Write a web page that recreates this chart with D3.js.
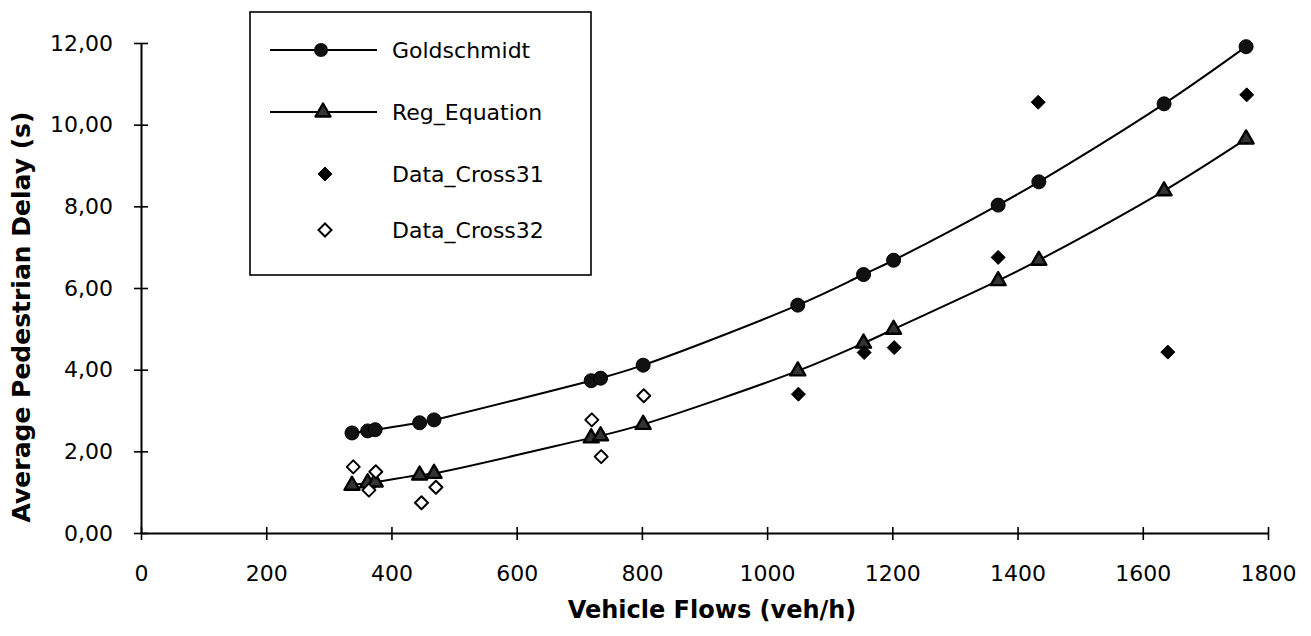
<!DOCTYPE html>
<html>
<head>
<meta charset="utf-8">
<script src="https://cdn.jsdelivr.net/npm/d3@7"></script>
<style>
  html, body { margin: 0; padding: 0; background: #fff; }
  svg { display: block; }
</style>
</head>
<body>
<svg id="chart" width="1311" height="636"></svg>
<script>
// ---- Data ----
const flows        = [337, 362, 374, 445, 468, 719, 734, 802, 1049, 1154, 1202, 1369, 1434, 1634, 1765];
const goldschmidt  = [2.45, 2.50, 2.53, 2.70, 2.77, 3.73, 3.79, 4.11, 5.58, 6.33, 6.68, 8.03, 8.60, 10.51, 11.91];
const regEquation  = [1.17, 1.23, 1.25, 1.42, 1.46, 2.33, 2.38, 2.66, 3.97, 4.65, 4.99, 6.18, 6.68, 8.38, 9.65];
const cross31Flows = [1050, 1155, 1203, 1369, 1433, 1640, 1766];
const cross31Delay = [3.40, 4.42, 4.54, 6.75, 10.55, 4.43, 10.73];
const cross32Flows = [339, 364, 375, 448, 471, 720, 735, 803];
const cross32Delay = [1.62, 1.05, 1.50, 0.74, 1.12, 2.77, 1.87, 3.36];
const xTicks = [0, 200, 400, 600, 800, 1000, 1200, 1400, 1600, 1800];
const yTicks = [0, 2, 4, 6, 8, 10, 12];
const seriesNames = ["Goldschmidt", "Reg_Equation", "Data_Cross31", "Data_Cross32"];

const FONT = "'DejaVu Sans', sans-serif";
const svg = d3.select("#chart");

const x = d3.scaleLinear().domain([0, 1800]).range([141, 1268]);
const y = d3.scaleLinear().domain([0, 12]).range([533, 43]);

const fmt = d => d3.format(".2f")(d).replace(".", ",");

// Axes
const yAxis = svg.append("g").attr("transform", `translate(${x(0)},0)`)
  .call(d3.axisLeft(y).tickValues(yTicks).tickFormat(fmt).tickSizeOuter(0).tickSizeInner(7).tickPadding(21));
const xAxis = svg.append("g").attr("transform", `translate(0,${y(0)})`)
  .call(d3.axisBottom(x).tickValues(xTicks).tickFormat(d3.format("d")).tickSizeOuter(0).tickSizeInner(7).tickPadding(25));

[yAxis, xAxis].forEach(g => {
  g.select(".domain").attr("stroke", "#000").attr("stroke-width", 2);
  g.selectAll(".tick line").attr("stroke", "#000").attr("stroke-width", 1.6);
  g.selectAll(".tick text").attr("fill", "#000").style("font-family", FONT).style("font-size", "22px");
});
yAxis.selectAll(".tick line").attr("x1", -7).attr("x2", 7);
xAxis.selectAll(".tick line").attr("y1", -6).attr("y2", 7);

// Axis titles
svg.append("text")
  .attr("x", 712).attr("y", 618)
  .attr("text-anchor", "middle")
  .style("font-family", FONT).style("font-size", "24px").style("font-weight", "bold")
  .text("Vehicle Flows (veh/h)");
svg.append("text")
  .attr("transform", "translate(30,317) rotate(-90)")
  .attr("text-anchor", "middle")
  .style("font-family", FONT).style("font-size", "25px").style("font-weight", "bold")
  .text("Average Pedestrian Delay (s)");

// Marker paths
const triPath = "M0,-8.5L7.5,4.5L-7.5,4.5Z";
const diaPath = r => `M0,${-r}L${r},0L0,${r}L${-r},0Z`;

// Lines
const line = d3.line().x(d => x(d[0])).y(d => y(d[1])).curve(d3.curveCatmullRom.alpha(0.5));
const gold = flows.map((f, i) => [f, goldschmidt[i]]);
const reg = flows.map((f, i) => [f, regEquation[i]]);
const c31 = cross31Flows.map((f, i) => [f, cross31Delay[i]]);
const c32 = cross32Flows.map((f, i) => [f, cross32Delay[i]]);

svg.append("path").datum(gold).attr("d", line).attr("fill", "none").attr("stroke", "#000").attr("stroke-width", 2);
svg.append("path").datum(reg).attr("d", line).attr("fill", "none").attr("stroke", "#000").attr("stroke-width", 2);

// Points
svg.append("g").selectAll("circle").data(gold).join("circle")
  .attr("cx", d => x(d[0])).attr("cy", d => y(d[1])).attr("r", 7)
  .attr("fill", "#111").attr("stroke", "#000").attr("stroke-width", 1);

svg.append("g").selectAll("path").data(reg).join("path")
  .attr("transform", d => `translate(${x(d[0])},${y(d[1])})`)
  .attr("d", triPath).attr("fill", "#333").attr("stroke", "#000").attr("stroke-width", 2.4).attr("stroke-linejoin", "round");

svg.append("g").selectAll("path").data(c31).join("path")
  .attr("transform", d => `translate(${x(d[0])},${y(d[1])})`)
  .attr("d", diaPath(7)).attr("fill", "#000").attr("stroke", "#000").attr("stroke-width", 1).attr("stroke-linejoin", "round");

svg.append("g").selectAll("path").data(c32).join("path")
  .attr("transform", d => `translate(${x(d[0])},${y(d[1])})`)
  .attr("d", diaPath(6.5)).attr("fill", "#fff").attr("stroke", "#000").attr("stroke-width", 2).attr("stroke-linejoin", "round");

// Legend
const lg = svg.append("g");
lg.append("rect").attr("x", 250).attr("y", 12).attr("width", 341).attr("height", 263)
  .attr("fill", "#fff").attr("stroke", "#000").attr("stroke-width", 1.6);
const rowsY = [50, 112, 174, 230];
lg.append("line").attr("x1", 270).attr("x2", 377).attr("y1", rowsY[0]).attr("y2", rowsY[0]).attr("stroke", "#000").attr("stroke-width", 2);
lg.append("circle").attr("cx", 321).attr("cy", rowsY[0]).attr("r", 7).attr("fill", "#111");
lg.append("line").attr("x1", 270).attr("x2", 377).attr("y1", rowsY[1]).attr("y2", rowsY[1]).attr("stroke", "#000").attr("stroke-width", 2);
lg.append("path").attr("transform", `translate(323,${rowsY[1]})`).attr("d", triPath)
  .attr("fill", "#333").attr("stroke", "#000").attr("stroke-width", 2.4).attr("stroke-linejoin", "round");
lg.append("path").attr("transform", `translate(325,${rowsY[2]})`).attr("d", diaPath(7)).attr("fill", "#000").attr("stroke", "#000");
lg.append("path").attr("transform", `translate(325,${rowsY[3]})`).attr("d", diaPath(6.5))
  .attr("fill", "#fff").attr("stroke", "#000").attr("stroke-width", 2);
lg.selectAll("text.lab").data(seriesNames).join("text").attr("class", "lab")
  .attr("x", 392).attr("y", (d, i) => rowsY[i]).attr("dy", "0.35em")
  .style("font-family", FONT).style("font-size", "22px").attr("fill", "#000")
  .text(d => d);
</script>
</body>
</html>
